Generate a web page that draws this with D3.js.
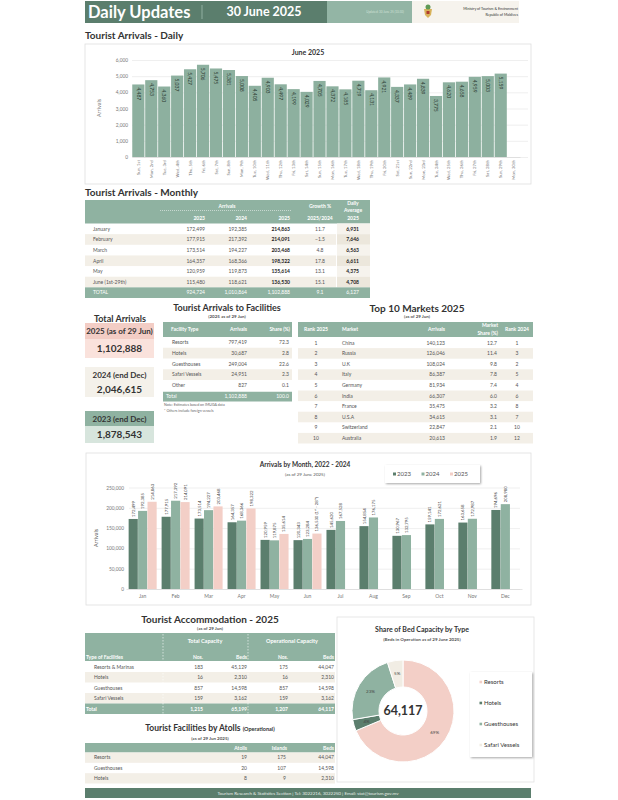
<!DOCTYPE html>
<html>
<head>
<meta charset="utf-8">
<script src="https://cdn.jsdelivr.net/npm/d3@7"></script>
<style>
  body { margin: 0; background: #fff; }
  svg { display: block; font-family: Lato, "Open Sans", sans-serif; }
</style>
</head>
<body>
<div id="root"></div>
<script>
// ---- data ----
var days = ['Sun, 1st', 'Mon, 2nd', 'Tue, 3rd', 'Wed, 4th', 'Thu, 5th', 'Fri, 6th', 'Sat, 7th',
  'Sun, 8th', 'Mon, 9th', 'Tue, 10th', 'Wed, 11th', 'Thu, 12th', 'Fri, 13th', 'Sat, 14th',
  'Sun, 15th', 'Mon, 16th', 'Tue, 17th', 'Wed, 18th', 'Thu, 19th', 'Fri, 20th', 'Sat, 21st',
  'Sun, 22nd', 'Mon, 23rd', 'Tue, 24th', 'Wed, 25th', 'Thu, 26th', 'Fri, 27th', 'Sat, 28th',
  'Sun, 29th', 'Mon, 30th'];
var dailyArrivals = [4487, 4753, 4360, 5037, 5427, 5706, 5475, 5381, 5008, 4405, 4903, 4497,
  4199, 4029, 4705, 4372, 4185, 4719, 4131, 4921, 4337, 4489, 4839, 3775, 4620, 4658, 4959,
  5003, 5159, null];
var dailyTicks = [0, 1000, 2000, 3000, 4000, 5000, 6000];

var tableMonths = ['January', 'February', 'March', 'April', 'May', 'June (1st-29th)'];
var table2023 = [172499, 177915, 173514, 164357, 120959, 115480];
var table2024 = [192385, 217392, 194227, 168366, 119873, 118621];
var table2025 = [214863, 214091, 203468, 198322, 135614, 136530];
var tableGrowth = [11.7, -1.5, 4.8, 17.8, 13.1, 15.1];
var tableDailyAvg = [6931, 7646, 6563, 6611, 4375, 4708];
var tableTotal = ['TOTAL', 924724, 1010864, 1102888, 9.1, 6127];

var totalLabels = ['2025 (as of 29 Jun)', '2024 (end Dec)', '2023 (end Dec)'];
var totalValues = [1102888, 2046615, 1878543];

var facilityTypes = ['Resorts', 'Hotels', 'Guesthouses', 'Safari Vessels', 'Other'];
var facilityArrivals = [797419, 30687, 249004, 24951, 827];
var facilityShare = [72.3, 2.8, 22.6, 2.3, 0.1];

var marketRank = [1, 2, 3, 4, 5, 6, 7, 8, 9, 10];
var marketNames = ['China', 'Russia', 'U.K', 'Italy', 'Germany', 'India', 'France', 'U.S.A', 'Switzerland', 'Australia'];
var marketArrivals = [140123, 126046, 108024, 86387, 81934, 66307, 35475, 34615, 22847, 20613];
var marketShare = [12.7, 11.4, 9.8, 7.8, 7.4, 6.0, 3.2, 3.1, 2.1, 1.9];
var marketRank2024 = [1, 3, 2, 5, 4, 6, 8, 7, 10, 12];

var chartMonths = ['Jan', 'Feb', 'Mar', 'Apr', 'May', 'Jun', 'Jul', 'Aug', 'Sep', 'Oct', 'Nov', 'Dec'];
var years = ['2023', '2024', '2025'];
var series2023 = [172499, 177915, 173514, 164357, 120959, 120343, 145620, 154854, 130967, 159141, 163658, 194696];
var series2024 = [192385, 217392, 194227, 168366, 119875, 123284, 167528, 176175, 132795, 172621, 172987, 208980];
var series2025 = [214863, 214091, 203468, 198322, 135614, 136530];
var monthTicks = [0, 50000, 100000, 150000, 200000, 250000];

var accomTypes = ['Resorts & Marinas', 'Hotels', 'Guesthouses', 'Safari Vessels'];
var totalNos = [183, 16, 857, 159];
var totalBeds = [45129, 2310, 14598, 3162];
var operNos = [175, 16, 857, 159];
var operBeds = [44047, 2310, 14598, 3162];
var accomTotal = ['Total', 1215, 65199, 1207, 64117];

var atollTypes = ['Resorts', 'Guesthouses', 'Hotels'];
var atollCounts = [19, 20, 8];
var islandCounts = [175, 107, 9];
var atollBeds = [44047, 14598, 2310];

var bedTypes = ['Resorts', 'Hotels', 'Guesthouses', 'Safari Vessels'];
var bedValues = [44047, 2310, 14598, 3162];

// ---- colours ----
var dark = '#5b7e6d', mid = '#8fb2a1', pink = '#f3cfc7', beige = '#f3efe7', ink = '#444';
var fmt = d3.format(',');

var svg = d3.select('#root')
  .append('svg')
    .attr('width', 618)
    .attr('height', 800);

var defs = svg.append('defs');
defs.append('filter').attr('id', 'shadow')
    .attr('x', '-20%').attr('y', '-20%').attr('width', '140%').attr('height', '140%')
  .append('feDropShadow')
    .attr('dx', 1).attr('dy', 1).attr('stdDeviation', 0.8)
    .attr('flood-opacity', 0.35);

function txt(g, x, y, s, size, opts) {
  opts = opts || {};
  return g.append('text')
      .attr('x', x)
      .attr('y', y)
      .attr('dy', '0.35em')
      .attr('font-size', size)
      .attr('text-anchor', opts.anchor || 'start')
      .attr('font-weight', opts.bold ? 'bold' : null)
      .attr('fill', opts.fill || ink)
      .text(s);
}

// ---- header ----
svg.append('rect').attr('x', 85).attr('y', 1).attr('width', 242).attr('height', 22).attr('fill', dark);
svg.append('rect').attr('x', 327).attr('y', 1).attr('width', 85).attr('height', 22).attr('fill', '#93b5a5');
svg.append('rect').attr('x', 412).attr('y', 1).attr('width', 107).attr('height', 22).attr('fill', '#f6f3ed');
txt(svg, 88, 12.5, 'Daily Updates', 16.5, { bold: true, fill: '#fff' });
svg.append('line').attr('x1', 202).attr('x2', 202).attr('y1', 5).attr('y2', 19)
    .attr('stroke', '#9fbcae').attr('stroke-width', 0.8);
txt(svg, 264, 12, '30 June 2025', 12.5, { bold: true, fill: '#fff', anchor: 'middle' });
txt(svg, 385, 12, 'Updated: 30 June 25 (10:30)', 3, { fill: '#cfe0d7', anchor: 'middle' });
// emblem
var em = svg.append('g').attr('transform', 'translate(428,12)');
em.append('path').attr('d', 'M-4,-3 L4,-3 L3,3 L0,6 L-3,3 Z').attr('fill', '#d8b25a');
em.append('circle').attr('cy', -5).attr('r', 2.5).attr('fill', '#5f9a56');
em.append('rect').attr('x', -1.5).attr('y', -1).attr('width', 3).attr('height', 3).attr('fill', '#b03a2e');
txt(svg, 518, 8.5, 'Ministry of Tourism & Environment', 3.6, { anchor: 'end', fill: '#333' });
txt(svg, 518, 14.5, 'Republic of Maldives', 3.6, { anchor: 'end', fill: '#333' });

// ---- daily chart ----
txt(svg, 85, 35, 'Tourist Arrivals - Daily', 10, { bold: true, fill: '#333' });
svg.append('rect').attr('x', 85).attr('y', 44).attr('width', 446).attr('height', 140)
    .attr('fill', '#fff').attr('stroke', '#dedede').attr('stroke-width', 0.8);
txt(svg, 308, 53, 'June 2025', 7, { bold: true, anchor: 'middle', fill: '#333' });

var xd = d3.scaleBand().domain(days).range([132, 520]).paddingInner(0.06).paddingOuter(0.02);
var yd = d3.scaleLinear().domain([0, 6000]).range([157, 60]);

var yAxisD = svg.append('g')
    .attr('transform', 'translate(132,0)')
    .call(d3.axisLeft(yd).tickValues(dailyTicks).tickSize(-396).tickPadding(4).tickFormat(fmt));
yAxisD.select('.domain').remove();
yAxisD.selectAll('line').attr('stroke', '#e4e4e4').attr('stroke-width', 0.6);
yAxisD.selectAll('text').attr('font-size', 4.8).attr('fill', '#777').attr('font-family', 'Lato, sans-serif');

svg.selectAll('.dbar')
    .data(days.map(function (d, i) { return { day: d, v: dailyArrivals[i] }; })
      .filter(function (d) { return d.v != null; }))
  .enter().append('rect')
    .attr('class', 'dbar')
    .attr('x', function (d) { return xd(d.day); })
    .attr('y', function (d) { return yd(d.v); })
    .attr('width', xd.bandwidth())
    .attr('height', function (d) { return yd(0) - yd(d.v); })
    .attr('fill', '#8db09f');

svg.selectAll('.dlabel')
    .data(days.map(function (d, i) { return { day: d, v: dailyArrivals[i] }; })
      .filter(function (d) { return d.v != null; }))
  .enter().append('text')
    .attr('class', 'dlabel')
    .attr('transform', function (d) {
      return 'translate(' + (xd(d.day) + xd.bandwidth() / 2) + ',' + (yd(d.v) + 3) + ') rotate(90)';
    })
    .attr('dy', '0.35em')
    .attr('font-size', 5)
    .attr('fill', '#2e3f36')
    .text(function (d) { return fmt(d.v); });

var xAxisD = svg.append('g')
    .attr('transform', 'translate(0,157)')
    .call(d3.axisBottom(xd).tickSize(0));
xAxisD.select('.domain').attr('stroke', '#d4d4d4').attr('stroke-width', 0.6);
xAxisD.selectAll('text')
    .attr('transform', 'rotate(-90)')
    .attr('x', -3).attr('y', 0).attr('dy', '0.35em')
    .attr('text-anchor', 'end')
    .attr('font-size', 4.3).attr('fill', '#777').attr('font-family', 'Lato, sans-serif');

svg.append('text')
    .attr('transform', 'translate(101,108) rotate(-90)')
    .attr('text-anchor', 'middle').attr('font-size', 5.5).attr('fill', '#777')
    .text('Arrivals');

// ---- monthly table ----
txt(svg, 85, 192, 'Tourist Arrivals - Monthly', 10, { bold: true, fill: '#333' });
var mt = svg.append('g');
mt.append('rect').attr('x', 85).attr('y', 200).attr('width', 285).attr('height', 23.5).attr('fill', mid);
txt(mt, 227, 206.5, 'Arrivals', 5, { bold: true, fill: '#fff', anchor: 'middle' });
mt.append('line').attr('x1', 160).attr('x2', 292).attr('y1', 210.5).attr('y2', 210.5)
    .attr('stroke', '#fff').attr('stroke-width', 0.5).attr('stroke-dasharray', '1,1');
[['2023', 205], ['2024', 247], ['2025', 290]].forEach(function (h) {
  txt(mt, h[1], 218, h[0], 5, { bold: true, fill: '#fff', anchor: 'end' });
});
txt(mt, 320, 206.5, 'Growth %', 5, { bold: true, fill: '#fff', anchor: 'middle' });
txt(mt, 320, 218, '2025/2024', 5, { bold: true, fill: '#fff', anchor: 'middle' });
txt(mt, 353, 203, 'Daily', 5, { bold: true, fill: '#fff', anchor: 'middle' });
txt(mt, 353, 210.5, 'Average', 5, { bold: true, fill: '#fff', anchor: 'middle' });
txt(mt, 353, 218, '2025', 5, { bold: true, fill: '#fff', anchor: 'middle' });

var mRows = tableMonths.map(function (m, i) {
  return [m, table2023[i], table2024[i], table2025[i], tableGrowth[i], tableDailyAvg[i]];
}).concat([tableTotal]);
var ym = d3.scaleBand().domain(d3.range(mRows.length)).range([223.5, 298]);

mRows.forEach(function (r, i) {
  var y0 = ym(i), h = ym.bandwidth(), cy = y0 + h / 2;
  var isTotal = i === mRows.length - 1;
  if (isTotal) {
    mt.append('rect').attr('x', 85).attr('y', y0).attr('width', 285).attr('height', h).attr('fill', mid);
  } else {
    if (i % 2 === 1) mt.append('rect').attr('x', 85).attr('y', y0).attr('width', 251).attr('height', h).attr('fill', beige);
    mt.append('rect').attr('x', 337).attr('y', y0).attr('width', 33).attr('height', h)
        .attr('fill', i % 2 === 1 ? '#ece7dc' : '#f6f3ed');
  }
  var c = isTotal ? '#fff' : '#555';
  txt(mt, 93, cy, r[0], 5, { fill: c });
  txt(mt, 205, cy, fmt(r[1]), 5, { fill: c, anchor: 'end' });
  txt(mt, 247, cy, fmt(r[2]), 5, { fill: c, anchor: 'end' });
  txt(mt, 290, cy, fmt(r[3]), 5, { fill: isTotal ? '#fff' : '#222', anchor: 'end', bold: !isTotal });
  txt(mt, 320, cy, d3.format('.1f')(r[4]), 5, { fill: c, anchor: 'middle' });
  txt(mt, 359, cy, fmt(r[5]), 5, { fill: isTotal ? '#fff' : '#222', anchor: 'end', bold: !isTotal });
});

// ---- total arrivals boxes ----
txt(svg, 120, 319, 'Total Arrivals', 9, { bold: true, anchor: 'middle', fill: '#333' });
var boxes = [
  { y: 323, h1: 16, h2: 19, c1: '#f3cdc5', c2: '#fae2dc' },
  { y: 367, h1: 15, h2: 15, c1: '#f4f1ea', c2: '#f4f1ea' },
  { y: 411, h1: 15, h2: 17, c1: mid, c2: '#d7e5dd' }
];
boxes.forEach(function (b, i) {
  svg.append('rect').attr('x', 85).attr('y', b.y).attr('width', 69).attr('height', b.h1).attr('fill', b.c1);
  svg.append('rect').attr('x', 85).attr('y', b.y + b.h1).attr('width', 69).attr('height', b.h2).attr('fill', b.c2);
  txt(svg, 119.5, b.y + b.h1 / 2 + 0.5, totalLabels[i], 8, { bold: true, anchor: 'middle', fill: '#333' });
  txt(svg, 119.5, b.y + b.h1 + b.h2 / 2, fmt(totalValues[i]), 10, { bold: true, anchor: 'middle', fill: '#333' });
});

// ---- facilities table ----
txt(svg, 227, 308, 'Tourist Arrivals to Facilities', 9, { bold: true, anchor: 'middle', fill: '#333' });
txt(svg, 227, 316, '(2025 as of 29 Jun)', 4.5, { bold: true, anchor: 'middle', fill: '#555' });
var ft = svg.append('g');
ft.append('rect').attr('x', 163).attr('y', 322).attr('width', 129).attr('height', 15).attr('fill', mid);
txt(ft, 171, 329.5, 'Facility Type', 5, { bold: true, fill: '#fff' });
txt(ft, 247, 329.5, 'Arrivals', 5, { bold: true, fill: '#fff', anchor: 'end' });
txt(ft, 290, 329.5, 'Share (%)', 5, { bold: true, fill: '#fff', anchor: 'end' });
var fRows = facilityTypes.map(function (t, i) { return [t, facilityArrivals[i], facilityShare[i]]; })
  .concat([['Total', d3.sum(facilityArrivals), 100.0]]);
var yf = d3.scaleBand().domain(d3.range(fRows.length)).range([337, 401.5]);
fRows.forEach(function (r, i) {
  var y0 = yf(i), h = yf.bandwidth(), cy = y0 + h / 2;
  var isTotal = i === fRows.length - 1;
  if (isTotal) ft.append('rect').attr('x', 163).attr('y', y0 + 1).attr('width', 129).attr('height', h - 1).attr('fill', mid);
  else if (i % 2 === 1) ft.append('rect').attr('x', 163).attr('y', y0).attr('width', 129).attr('height', h).attr('fill', beige);
  var c = isTotal ? '#fff' : '#555';
  txt(ft, isTotal ? 166 : 172, cy, r[0], 5, { fill: c });
  txt(ft, 247, cy, fmt(r[1]), 5, { fill: c, anchor: 'end' });
  txt(ft, 289, cy, d3.format('.1f')(r[2]), 5, { fill: c, anchor: 'end' });
});
txt(svg, 164, 405, 'Note: Estimates based on IMUGA data', 3.6, { fill: '#666' });
txt(svg, 164, 411, '* Others include foreign vessels', 3.6, { fill: '#666' });

// ---- top 10 markets ----
txt(svg, 417, 308, 'Top 10 Markets 2025', 10, { bold: true, anchor: 'middle', fill: '#333' });
txt(svg, 417, 316, '(as of 29 Jun)', 4.5, { bold: true, anchor: 'middle', fill: '#555' });
var tt = svg.append('g');
tt.append('rect').attr('x', 298).attr('y', 322).attr('width', 235).attr('height', 15).attr('fill', mid);
txt(tt, 316, 329.5, 'Rank 2025', 5, { bold: true, fill: '#fff', anchor: 'middle' });
txt(tt, 342, 329.5, 'Market', 5, { bold: true, fill: '#fff' });
txt(tt, 445, 329.5, 'Arrivals', 5, { bold: true, fill: '#fff', anchor: 'end' });
txt(tt, 498, 325.5, 'Market', 5, { bold: true, fill: '#fff', anchor: 'end' });
txt(tt, 498, 333, 'Share (%)', 5, { bold: true, fill: '#fff', anchor: 'end' });
txt(tt, 517, 329.5, 'Rank 2024', 5, { bold: true, fill: '#fff', anchor: 'middle' });
var yt = d3.scaleBand().domain(d3.range(marketNames.length)).range([337.5, 443.5]);
marketNames.forEach(function (m, i) {
  var y0 = yt(i), h = yt.bandwidth(), cy = y0 + h / 2;
  if (i % 2 === 1) tt.append('rect').attr('x', 298).attr('y', y0).attr('width', 235).attr('height', h).attr('fill', beige);
  txt(tt, 316, cy, marketRank[i], 5, { fill: '#555', anchor: 'middle' });
  txt(tt, 342, cy, m, 5, { fill: '#555' });
  txt(tt, 445, cy, fmt(marketArrivals[i]), 5, { fill: '#555', anchor: 'end' });
  txt(tt, 497, cy, d3.format('.1f')(marketShare[i]), 5, { fill: '#555', anchor: 'end' });
  txt(tt, 517, cy, marketRank2024[i], 5, { fill: '#555', anchor: 'middle' });
});

// ---- arrivals by month chart ----
svg.append('rect').attr('x', 86).attr('y', 453).attr('width', 445).attr('height', 152)
    .attr('fill', '#fff').attr('stroke', '#dedede').attr('stroke-width', 0.8);
txt(svg, 305, 465, 'Arrivals by Month, 2022 - 2024', 6.5, { bold: true, anchor: 'middle', fill: '#333' });
txt(svg, 305, 474, '(as of 29 June 2025)', 4.5, { anchor: 'middle', fill: '#555' });

var xm = d3.scaleBand().domain(chartMonths).range([126, 522]).paddingInner(0.15).paddingOuter(0.08);
var xy = d3.scaleBand().domain(years).range([0, xm.bandwidth()]).paddingInner(0.03);
var yMonth = d3.scaleLinear().domain([0, 250000]).range([589, 487.5]);
var yearColour = d3.scaleOrdinal().domain(years).range([dark, mid, pink]);

var yAxisM = svg.append('g')
    .attr('transform', 'translate(129,0)')
    .call(d3.axisLeft(yMonth).tickValues(monthTicks).tickSize(-391).tickPadding(5).tickFormat(fmt));
yAxisM.select('.domain').remove();
yAxisM.selectAll('line').attr('stroke', '#e4e4e4').attr('stroke-width', 0.6);
yAxisM.selectAll('text').attr('font-size', 4.8).attr('fill', '#777').attr('font-family', 'Lato, sans-serif');

var monthBars = [];
chartMonths.forEach(function (m, i) {
  [series2023, series2024, series2025].forEach(function (s, k) {
    if (s[i] != null) monthBars.push({ month: m, year: years[k], v: s[i] });
  });
});

svg.selectAll('.mbar')
    .data(monthBars)
  .enter().append('rect')
    .attr('class', 'mbar')
    .attr('x', function (d) { return xm(d.month) + xy(d.year); })
    .attr('y', function (d) { return yMonth(d.v); })
    .attr('width', xy.bandwidth())
    .attr('height', function (d) { return yMonth(0) - yMonth(d.v); })
    .attr('fill', function (d) { return yearColour(d.year); });

svg.selectAll('.mlabel')
    .data(monthBars)
  .enter().append('text')
    .attr('class', 'mlabel')
    .attr('transform', function (d) {
      return 'translate(' + (xm(d.month) + xy(d.year) + xy.bandwidth() / 2) + ',' + (yMonth(d.v) - 2) + ') rotate(-90)';
    })
    .attr('dy', '0.35em')
    .attr('font-size', 4.3)
    .attr('fill', '#444')
    .text(function (d) {
      return fmt(d.v) + (d.month === 'Jun' && d.year === '2025' ? '  (1ˢᵗ - 28ᵗʰ)' : '');
    });

var xAxisM = svg.append('g')
    .attr('transform', 'translate(0,589)')
    .call(d3.axisBottom(xm).tickSize(0).tickPadding(5));
xAxisM.select('.domain').attr('stroke', '#d4d4d4').attr('stroke-width', 0.6);
xAxisM.selectAll('text').attr('font-size', 5).attr('fill', '#777').attr('font-family', 'Lato, sans-serif');

svg.append('text')
    .attr('transform', 'translate(98,538) rotate(-90)')
    .attr('text-anchor', 'middle').attr('font-size', 5.5).attr('fill', '#555')
    .text('Arrivals');

var lg = svg.append('g');
lg.append('rect').attr('x', 385).attr('y', 465).attr('width', 95).attr('height', 18)
    .attr('fill', '#fff').attr('filter', 'url(#shadow)');
years.forEach(function (yr, i) {
  var x = 393 + i * 28.5;
  lg.append('rect').attr('x', x).attr('y', 472.5).attr('width', 3).attr('height', 3).attr('fill', yearColour(yr));
  txt(lg, x + 4, 474, yr, 6, { fill: '#555' });
});

// ---- accommodation table ----
txt(svg, 210, 619, 'Tourist Accommodation - 2025', 10, { bold: true, anchor: 'middle', fill: '#333' });
txt(svg, 210, 628, '(as of 29 Jun)', 4.5, { bold: true, anchor: 'middle', fill: '#555' });
var at = svg.append('g');
at.append('rect').attr('x', 85).attr('y', 633).attr('width', 250).attr('height', 28).attr('fill', mid);
txt(at, 205, 641.5, 'Total Capacity', 5.5, { bold: true, fill: '#fff', anchor: 'middle' });
txt(at, 292, 641.5, 'Operational Capacity', 5.5, { bold: true, fill: '#fff', anchor: 'middle' });
txt(at, 86, 657, 'Type of Facilities', 5, { bold: true, fill: '#fff' });
[['Nos.', 203], ['Beds', 247], ['Nos.', 288], ['Beds', 334]].forEach(function (h) {
  txt(at, h[1], 657, h[0], 5, { bold: true, fill: '#fff', anchor: 'end' });
});
var aRows = accomTypes.map(function (t, i) { return [t, totalNos[i], totalBeds[i], operNos[i], operBeds[i]]; })
  .concat([accomTotal]);
var ya = d3.scaleBand().domain(d3.range(aRows.length)).range([661.5, 714]);
aRows.forEach(function (r, i) {
  var y0 = ya(i), h = ya.bandwidth(), cy = y0 + h / 2;
  var isTotal = i === aRows.length - 1;
  if (isTotal) at.append('rect').attr('x', 85).attr('y', y0).attr('width', 250).attr('height', h).attr('fill', mid);
  else if (i % 2 === 1) at.append('rect').attr('x', 85).attr('y', y0).attr('width', 250).attr('height', h).attr('fill', beige);
  var c = isTotal ? '#fff' : '#555';
  txt(at, isTotal ? 86 : 94, cy, r[0], 5, { fill: c, bold: isTotal });
  txt(at, 203, cy, fmt(r[1]), 5, { fill: c, anchor: 'end', bold: isTotal });
  txt(at, 247, cy, fmt(r[2]), 5, { fill: c, anchor: 'end', bold: isTotal });
  txt(at, 288, cy, fmt(r[3]), 5, { fill: c, anchor: 'end', bold: isTotal });
  txt(at, 334, cy, fmt(r[4]), 5, { fill: c, anchor: 'end', bold: isTotal });
});
[163, 248].forEach(function (x) {
  at.append('line').attr('x1', x).attr('x2', x).attr('y1', 634).attr('y2', 714)
      .attr('stroke', '#fff').attr('stroke-width', 0.6).attr('stroke-dasharray', '1.5,1.5');
});

// ---- facilities by atolls ----
var ttl = svg.append('text')
    .attr('x', 210).attr('y', 728).attr('dy', '0.35em')
    .attr('text-anchor', 'middle').attr('font-size', 8.5).attr('font-weight', 'bold').attr('fill', '#333');
ttl.append('tspan').text('Tourist Facilities by Atolls ');
ttl.append('tspan').attr('font-size', 5.5).text('(Operational)');
txt(svg, 210, 738, '(as of 29 Jun 2025)', 4.5, { bold: true, anchor: 'middle', fill: '#555' });
var ot = svg.append('g');
ot.append('rect').attr('x', 85).attr('y', 743).attr('width', 250).attr('height', 9.5).attr('fill', mid);
txt(ot, 247, 747.8, 'Atolls', 5, { bold: true, fill: '#fff', anchor: 'end' });
txt(ot, 287, 747.8, 'Islands', 5, { bold: true, fill: '#fff', anchor: 'end' });
txt(ot, 334, 747.8, 'Beds', 5, { bold: true, fill: '#fff', anchor: 'end' });
var yo = d3.scaleBand().domain(d3.range(atollTypes.length)).range([752.5, 783.5]);
atollTypes.forEach(function (t, i) {
  var y0 = yo(i), h = yo.bandwidth(), cy = y0 + h / 2;
  if (i % 2 === 0) ot.append('rect').attr('x', 85).attr('y', y0).attr('width', 250).attr('height', h).attr('fill', beige);
  txt(ot, 94, cy, t, 5, { fill: '#555' });
  txt(ot, 247, cy, fmt(atollCounts[i]), 5, { fill: '#555', anchor: 'end' });
  txt(ot, 286, cy, fmt(islandCounts[i]), 5, { fill: '#555', anchor: 'end' });
  txt(ot, 334, cy, fmt(atollBeds[i]), 5, { fill: '#555', anchor: 'end' });
});

// ---- bed capacity donut ----
svg.append('rect').attr('x', 337).attr('y', 617).attr('width', 197).attr('height', 165)
    .attr('fill', '#fff').attr('stroke', '#e2e2e2').attr('stroke-width', 0.8);
txt(svg, 422, 630, 'Share of Bed Capacity by Type', 7, { bold: true, anchor: 'middle', fill: '#333' });
txt(svg, 422, 639, '(Beds in Operation as of 29 June 2025)', 4.5, { bold: true, anchor: 'middle', fill: '#555' });

var bedColour = d3.scaleOrdinal().domain(bedTypes).range([pink, dark, mid, '#f1ede4']);
var pie = d3.pie().sort(null).value(function (d) { return d.v; });
var arc = d3.arc().innerRadius(24).outerRadius(51);
var labelArc = d3.arc().innerRadius(38).outerRadius(38);
var bedData = pie(bedTypes.map(function (t, i) { return { type: t, v: bedValues[i] }; }));
var bedTotal = d3.sum(bedValues);

var donut = svg.append('g').attr('transform', 'translate(403,711)');
donut.selectAll('path')
    .data(bedData)
  .enter().append('path')
    .attr('d', arc)
    .attr('fill', function (d) { return bedColour(d.data.type); })
    .attr('stroke', '#fff')
    .attr('stroke-width', 1);
donut.selectAll('.plabel')
    .data(bedData)
  .enter().append('text')
    .attr('class', 'plabel')
    .attr('transform', function (d) { return 'translate(' + labelArc.centroid(d) + ')'; })
    .attr('dy', '0.35em')
    .attr('text-anchor', 'middle')
    .attr('font-size', 4.5)
    .attr('fill', '#444')
    .text(function (d) { return d3.format('.0%')(d.data.v / bedTotal); });
txt(donut, 0, 0, fmt(bedTotal), 12.5, { anchor: 'middle', fill: '#333', bold: true });

var pl = svg.append('g');
pl.append('rect').attr('x', 470).attr('y', 672).attr('width', 62).attr('height', 85)
    .attr('fill', '#fff').attr('filter', 'url(#shadow)');
bedTypes.forEach(function (t, i) {
  var y = 682 + i * 21;
  pl.append('rect').attr('x', 479.5).attr('y', y - 1.3).attr('width', 2.6).attr('height', 2.6).attr('fill', bedColour(t));
  txt(pl, 484, y, t, 6, { fill: '#333' });
});

// ---- footer ----
svg.append('rect').attr('x', 85).attr('y', 788).attr('width', 446).attr('height', 10).attr('fill', dark);
txt(svg, 308, 793, 'Tourism Research & Statistics Section | Tel: 3022216, 3022250 | Email: stat@tourism.gov.mv', 4.5,
  { anchor: 'middle', fill: '#e6efe9' });
</script>
</body>
</html>
